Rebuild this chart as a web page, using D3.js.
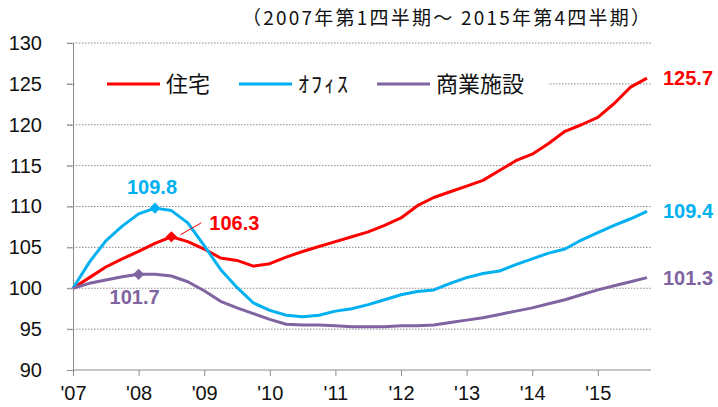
<!DOCTYPE html>
<html lang="ja">
<head>
<meta charset="UTF-8">
<title>不動産価格指数</title>
<script src="https://d3js.org/d3.v7.min.js"></script>
<style>
  body { margin: 0; background: #fff; }
  svg { display: block; }
</style>
</head>
<body>
<div id="chart"></div>
<script>
// quarterly index, 2007Q1 = 100
const quarters = d3.range(36); // 2007Q1 .. 2015Q4
const yearLabels = ["'07", "'08", "'09", "'10", "'11", "'12", "'13", "'14", "'15"];
const housing = [100, 101.3, 102.6, 103.6, 104.5, 105.5, 106.3, 105.7, 104.8, 103.7,
  103.4, 102.7, 103.0, 103.8, 104.5, 105.1, 105.7, 106.3, 106.9, 107.7,
  108.6, 110.1, 111.1, 111.8, 112.5, 113.2, 114.4, 115.6, 116.4, 117.7,
  119.2, 120.0, 120.9, 122.6, 124.6, 125.7];
const office = [100, 103.2, 105.8, 107.6, 109.1, 109.8, 109.5, 108.0, 105.2, 102.3,
  100.1, 98.2, 97.3, 96.7, 96.5, 96.7, 97.2, 97.5, 98.0, 98.6,
  99.2, 99.6, 99.8, 100.6, 101.3, 101.8, 102.1, 102.9, 103.6, 104.3,
  104.8, 105.9, 106.8, 107.7, 108.5, 109.4];
const retail = [100, 100.6, 101.0, 101.4, 101.7, 101.7, 101.5, 100.8, 99.7, 98.4,
  97.6, 96.9, 96.2, 95.6, 95.5, 95.5, 95.4, 95.3, 95.3, 95.3,
  95.4, 95.4, 95.5, 95.8, 96.1, 96.4, 96.8, 97.2, 97.6, 98.1,
  98.6, 99.2, 99.8, 100.3, 100.8, 101.3];
const seriesNames = ["住宅", "ｵﾌｨｽ", "商業施設"];
const colors = ["#ff0000", "#00b0f0", "#8064a2"];
const yTicks = [90, 95, 100, 105, 110, 115, 120, 125, 130];
// peak markers: [series index, quarter index]
const peaks = [[0, 6], [1, 5], [2, 4]];

const W = 718, H = 407;
const svg = d3.select("#chart").append("svg").attr("width", W).attr("height", H);

const x = d3.scaleLinear().domain([0, 35]).range([73, 647]);
const y = d3.scaleLinear().domain([90, 130]).range([370, 43]);
const fontNum = "'Liberation Sans', Arial, sans-serif";
const fontJp = "'Noto Sans CJK JP', sans-serif";

// gridlines
svg.append("g").selectAll("line")
  .data(yTicks.filter(d => d > 90))
  .join("line")
  .attr("x1", 67).attr("x2", 651)
  .attr("y1", d => y(d)).attr("y2", d => y(d))
  .attr("stroke", "#8c8c8c").attr("stroke-width", 1)
  .attr("stroke-dasharray", "1.5,1.5");

// y axis
const yAxis = svg.append("g").attr("transform", "translate(73,0)")
  .call(d3.axisLeft(y).tickValues(yTicks).tickSize(6).tickPadding(25));
yAxis.select(".domain").attr("stroke", "#8c8c8c");
yAxis.selectAll(".tick line").attr("stroke", "#8c8c8c");
yAxis.selectAll("text").attr("font-family", fontNum).attr("font-size", 20).attr("fill", "#111");

// x axis
const xAxis = svg.append("g").attr("transform", "translate(0,370)")
  .call(d3.axisBottom(x).tickValues(yearLabels.map((d, i) => i * 4))
    .tickFormat((d, i) => yearLabels[i]).tickSize(6).tickPadding(10));
xAxis.select(".domain").attr("d", "M73,0H651").attr("stroke", "#8c8c8c");
xAxis.selectAll(".tick line").attr("stroke", "#8c8c8c");
xAxis.selectAll("text").attr("font-family", fontNum).attr("font-size", 20).attr("fill", "#111");

// lines
const data = [housing, office, retail];
const line = d3.line().x((d, i) => x(quarters[i])).y(d => y(d));
data.forEach((s, k) => {
  svg.append("path").datum(s)
    .attr("d", line)
    .attr("fill", "none")
    .attr("stroke", colors[k])
    .attr("stroke-width", 3)
    .attr("stroke-linejoin", "round");
});

// peak markers (rotated squares)
const marker = d3.symbol().type(d3.symbolSquare).size(62);
svg.append("g").selectAll("path")
  .data(peaks)
  .join("path")
  .attr("d", marker)
  .attr("transform", d => `translate(${x(d[1])},${y(data[d[0]][d[1]])}) rotate(45)`)
  .attr("fill", d => colors[d[0]]);

// peak labels
const boldLabel = (px, py, k, txt) => svg.append("text").attr("x", px).attr("y", py)
  .attr("text-anchor", "middle").attr("font-family", fontNum).attr("font-weight", "bold")
  .attr("font-size", 20).attr("fill", colors[k]).text(txt);
boldLabel(x(5) - 3, y(109.8) - 14, 1, "109.8");
boldLabel(x(6) + 63, y(106.3) - 7, 0, "106.3");
svg.append("line")
  .attr("x1", x(6) + 9).attr("y1", y(106.3) - 2)
  .attr("x2", x(6) + 30).attr("y2", y(106.3) - 14)
  .attr("stroke", colors[0]).attr("stroke-width", 1);
boldLabel(x(4) - 4, y(101.7) + 30, 2, "101.7");

// end labels
data.forEach((s, k) => {
  svg.append("text").attr("x", 663).attr("y", y(s[35]) + 7)
    .attr("font-family", fontNum).attr("font-weight", "bold")
    .attr("font-size", 20).attr("fill", colors[k]).text(s[35].toFixed(1));
});

// legend
const legend = svg.append("g");
legend.append("rect").attr("x", 76).attr("y", 70).attr("width", 472).attr("height", 28).attr("fill", "#fff");
const legX = [107, 239, 377];
seriesNames.forEach((n, k) => {
  legend.append("line")
    .attr("x1", legX[k]).attr("x2", legX[k] + 53)
    .attr("y1", y(125)).attr("y2", y(125))
    .attr("stroke", colors[k]).attr("stroke-width", 3);
  legend.append("text")
    .attr("x", legX[k] + 59).attr("y", y(125) + 8)
    .attr("font-family", fontJp).attr("font-size", 22)
    .attr("letter-spacing", k === 1 ? 2 : 0)
    .attr("fill", "#111").text(n);
});

// period note
svg.append("text").attr("x", 242).attr("y", 25)
  .attr("font-family", fontJp).attr("font-size", 19)
  .attr("textLength", 408).attr("lengthAdjust", "spacing")
  .attr("fill", "#111").text("（2007年第1四半期～ 2015年第4四半期）");
</script>
</body>
</html>
